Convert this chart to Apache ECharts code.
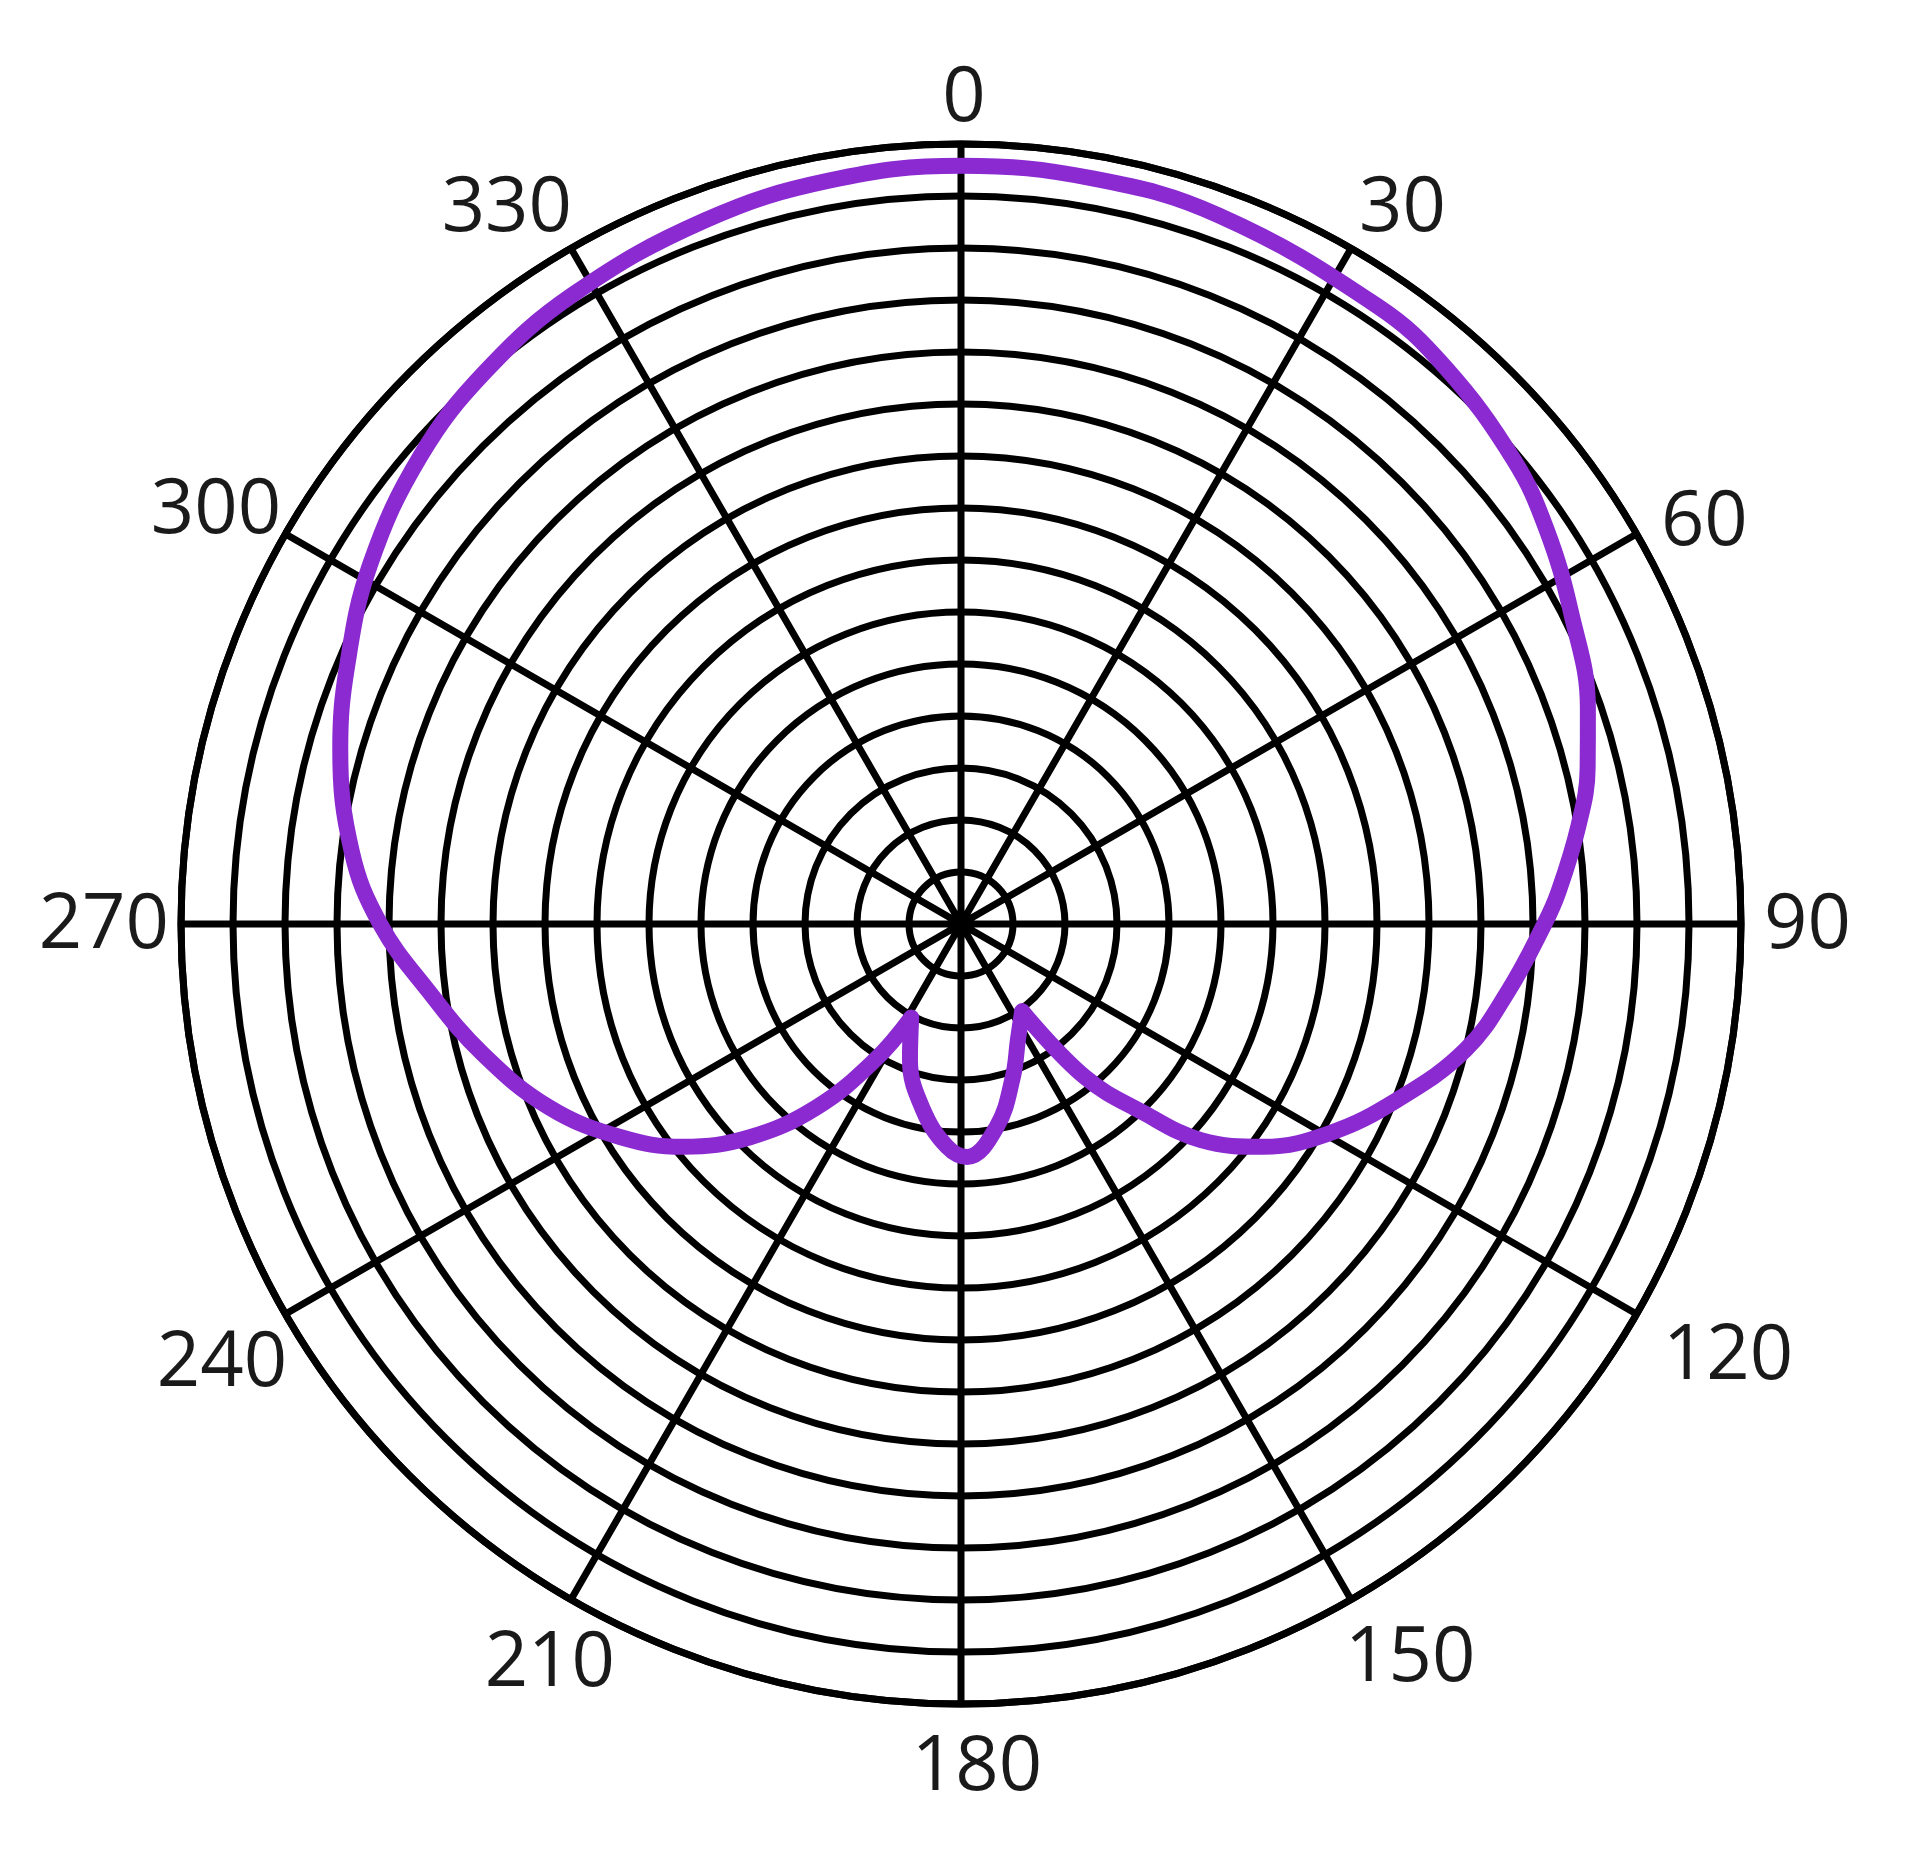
<!DOCTYPE html>
<html>
<head>
<meta charset="utf-8">
<script src="https://cdn.jsdelivr.net/npm/echarts@6/dist/echarts.min.js"></script>
<style>
html,body{margin:0;padding:0;background:#fff;}
#chart{width:1920px;height:1851px;}
</style>
</head>
<body>
<div id="chart"></div>
<script>
// Angle tick labels (degrees, clockwise from top)
const angleTicks = [0, 30, 60, 90, 120, 150, 180, 210, 240, 270, 300, 330];
// Concentric rings: 0..15
const ringMax = 15;

// Front (main) lobe: from right cusp, up over the top, down to left cusp
const frontAngles = [145, 141, 136, 132, 126.4, 119.5, 112, 104, 97, 90, 87, 81, 76, 71, 63, 56, 50, 41, 34, 20, 10, 0,
  350, 340, 328.4, 319.3, 310.9, 301.3, 292.7, 285.7, 276.8, 270, 262.9, 254.9, 246, 238, 231.3, 224.7, 218.2, 212.3, 208];
const frontRadii  = [2.05, 3.79, 5.04, 6.21, 7.22, 8.16, 9.04, 10.0, 10.6, 11.22, 11.5, 12.02, 12.42, 12.75, 13.17, 13.58, 13.88, 14.19, 14.33, 14.5, 14.56, 14.58,
  14.52, 14.4, 14.22, 14.02, 13.75, 13.3, 12.8, 12.4, 11.8, 11.17, 10.33, 9.54, 8.67, 7.73, 6.85, 5.77, 4.48, 3.09, 2.04];

// Rear lobe: from right cusp round the back to left cusp
const rearAngles = [145, 153.8, 161.2, 170, 178.5, 183.6, 191.5, 200.6, 208];
const rearRadii  = [2.05, 2.48, 3.1, 3.96, 4.48, 4.29, 3.65, 2.79, 2.04];

const frontData = frontAngles.map((a, i) => [frontRadii[i], a]);
const rearData = rearAngles.map((a, i) => [rearRadii[i], a]);

// label styling (offsets of each tick label from the axis, as padding [top,right,bottom,left])
const labelFont = { fontFamily: 'Open Sans', fontSize: 76, color: '#1a1a1a' };
const labelPad = {
  0: [0, 0, 107, 6], 30: [0, 0, 88, 58], 60: [0, 0, 23, 111], 90: [4, 0, 0, 123],
  120: [55, 0, 0, 113], 150: [108, 0, 0, 44], 180: [126, 0, 0, 32], 210: [113, 6, 0, 0],
  240: [62, 85, 0, 0], 270: [4, 112, 0, 0], 300: [0, 91, 35, 0], 330: [0, 49, 88, 0]
};
const rich = {};
angleTicks.forEach(v => { rich['t' + v] = Object.assign({ padding: labelPad[v] }, labelFont); });

const chart = echarts.init(document.getElementById('chart'), null, {renderer: 'canvas'});
const gridColor = '#000000';
const curveColor = '#8a2ad0';
chart.setOption({
  backgroundColor: '#ffffff',
  animation: false,
  polar: { center: [961, 924], radius: 780 },
  angleAxis: {
    type: 'value', min: 0, max: 360, interval: 30,
    startAngle: 90, clockwise: true,
    axisLine: { show: true, lineStyle: { color: gridColor, width: 7 } },
    axisTick: { show: false },
    splitLine: { show: true, lineStyle: { color: gridColor, width: 7 } },
    axisLabel: {
      show: true, margin: -100,
      fontFamily: 'Open Sans', fontSize: 76, color: '#1a1a1a',
      rich: rich,
      formatter: v => (angleTicks.indexOf(v) >= 0 ? '{t' + v + '|' + v + '}' : '')
    }
  },
  radiusAxis: {
    type: 'value', min: 0, max: ringMax, interval: 1,
    axisLine: { show: false }, axisTick: { show: false }, axisLabel: { show: false },
    splitLine: { show: true, lineStyle: { color: gridColor, width: 7 } }
  },
  series: [
    { type: 'line', coordinateSystem: 'polar', data: frontData, smooth: 0.4, symbol: 'none',
      lineStyle: { color: curveColor, width: 16, cap: 'round', join: 'round' } },
    { type: 'line', coordinateSystem: 'polar', data: rearData, smooth: 0.4, symbol: 'none',
      lineStyle: { color: curveColor, width: 16, cap: 'round', join: 'round' } }
  ]
});
</script>
</body>
</html>
